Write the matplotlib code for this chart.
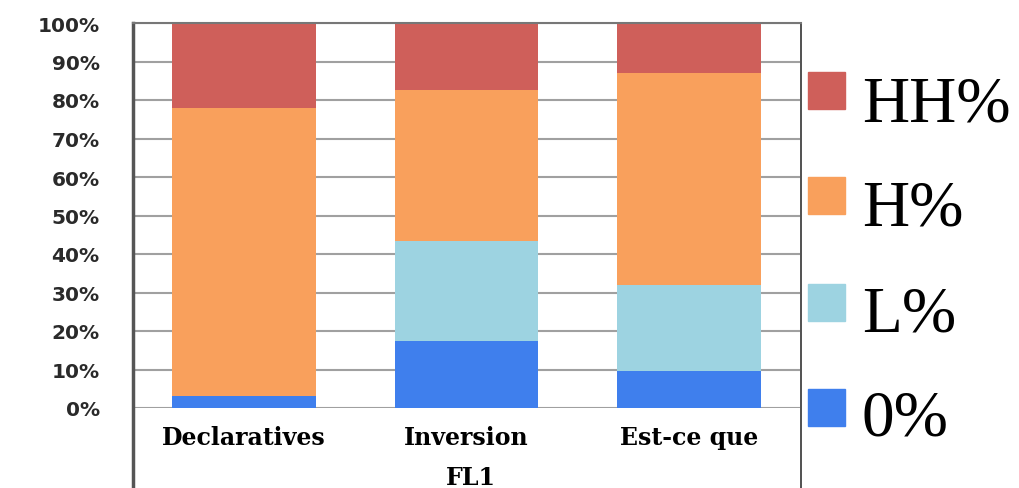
import matplotlib
matplotlib.use("Agg")
import matplotlib.pyplot as plt
from matplotlib.patches import Rectangle
from matplotlib.lines import Line2D
import numpy as np

categories = ["Declaratives", "Inversion", "Est-ce que"]
series_names = ["0%", "L%", "H%", "HH%"]
zero_pct = [3.0, 17.5, 9.5]
l_pct = [0.0, 26.0, 22.5]
h_pct = [75.0, 39.0, 55.0]
hh_pct = [22.0, 17.5, 13.0]
series_values = [zero_pct, l_pct, h_pct, hh_pct]
colors = ["#3F7FED", "#9DD3E1", "#F9A05C", "#CF5F5A"]
y_ticks = list(range(0, 101, 10))
y_tick_labels = [f"{t}%" for t in y_ticks]
x_title = "FL1"

fig = plt.figure(figsize=(10.2, 4.89), dpi=100)
ax = fig.add_axes([133/1020, 1-409/489, (800-133)/1020, (409-24)/489])

x = np.arange(len(categories))
bottom = np.zeros(len(categories))
for vals, c, name in zip(series_values, colors, series_names):
    ax.bar(x, vals, bottom=bottom, width=0.645, color=c, label=name, zorder=3)
    bottom += np.array(vals)

ax.set_xlim(-0.5, 2.5)
ax.set_ylim(0, 100)
ax.set_yticks(y_ticks)
ax.set_yticklabels(y_tick_labels, fontfamily="DejaVu Sans", fontweight="bold",
                   fontsize=14.5, color="#2a2a2a")
ax.tick_params(axis="y", length=0, pad=24)
ax.set_xticks(x)
ax.set_xticklabels(categories, fontfamily="DejaVu Serif", fontweight="bold",
                   fontsize=17)
ax.tick_params(axis="x", length=0, pad=12)
ax.grid(axis="y", color="#a0a0a0", linewidth=1.5, zorder=0)
for s in ["left", "right", "top", "bottom"]:
    ax.spines[s].set_visible(False)

# frame lines extending to the bottom of the picture
fig.add_artist(Line2D([133/1020, 133/1020], [0, 1-24/489], color="#555555", linewidth=2.5))
fig.add_artist(Line2D([801/1020, 801/1020], [0, 1-24/489], color="#333333", linewidth=1.2))
fig.add_artist(Line2D([133/1020, 801/1020], [1-24/489, 1-24/489], color="#777777", linewidth=1.5))

fig.text(471/1020, 1-478/489, x_title, fontfamily="DejaVu Serif", fontweight="bold",
         fontsize=17, ha="center", va="center")

# legend (drawn in figure coordinates)
sq_top = [390, 285, 178, 73]
baselines = [436, 331, 226, 122]
for name, c, yt, yb in zip(series_names, colors, sq_top, baselines):
    fig.add_artist(Rectangle((808/1020, 1-(yt+37)/489), 37/1020, 37/489,
                             color=c, transform=fig.transFigure))
    fig.text(862/1020, 1-yb/489, name, fontfamily="Liberation Serif",
             fontsize=47, ha="left", va="baseline")

fig.savefig("out.png", dpi=100)
